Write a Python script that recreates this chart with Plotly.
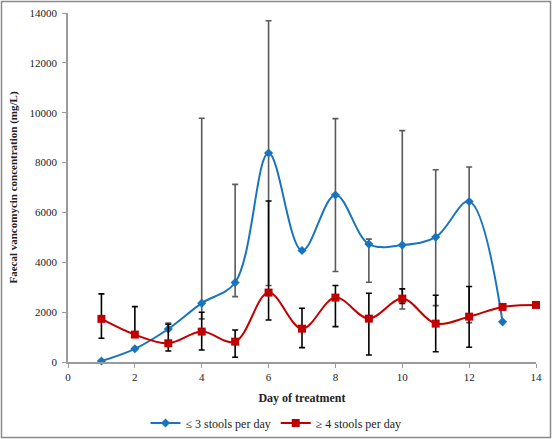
import plotly.graph_objects as go

# ---- data ----
days_low = [1, 2, 3, 4, 5, 6, 7, 8, 9, 10, 11, 12, 13]
conc_low = [40, 530, 1325, 2360, 3190, 8385, 4470, 6700, 4730, 4690, 5010, 6440, 1610]
low_upper = [40, 530, 1567, 9775, 7124, 13688, 4470, 9763, 4930, 9281, 7714, 7822, 1610]
low_lower = [40, 530, 1325, 1728, 2624, 3066, 4470, 3628, 3202, 2129, 2262, 1580, 1610]

days_high = [1, 2, 3, 4, 5, 6, 7, 8, 9, 10, 11, 12, 13, 14]
conc_high = [1730, 1100, 750, 1220, 816, 2784, 1338, 2583, 1740, 2543, 1539, 1820, 2210, 2290]
high_upper = [2732, 2222, 1514, 1997, 1286, 6456, 2157, 3066, 2760, 2933, 2680, 3026, 2210, 2290]
high_lower = [952, 1097, 442, 482, 189, 1687, 575, 1420, 281, 2350, 414, 590, 2210, 2290]

name_low = "≤ 3 stools per day"
name_high = "≥ 4 stools per day"
x_title = "Day of treatment"
y_title = "Faecal vancomycin concentration (mg/L)"
x_ticks = [0, 2, 4, 6, 8, 10, 12, 14]
y_ticks = [0, 2000, 4000, 6000, 8000, 10000, 12000, 14000]
y_tick_labels = ["0", "2000", "4000", "6000", "8000", "10000", "12000", "14000"]

BLUE = "#1A74BD"
RED = "#C00000"
FONT = "Liberation Serif"

fig = go.Figure()
fig.add_trace(go.Scatter(
    x=days_low, y=conc_low, name=name_low, mode="lines+markers",
    line=dict(color=BLUE, width=2, shape="spline", smoothing=1.0),
    marker=dict(symbol="diamond", size=7, color=BLUE),
    error_y=dict(type="data", symmetric=False,
                 array=[u - v for u, v in zip(low_upper, conc_low)],
                 arrayminus=[v - l for v, l in zip(conc_low, low_lower)],
                 color="#5a5a5a", thickness=1.6, width=3),
    cliponaxis=False,
))
fig.add_trace(go.Scatter(
    x=days_high, y=conc_high, name=name_high, mode="lines+markers",
    line=dict(color=RED, width=2, shape="spline", smoothing=1.0),
    marker=dict(symbol="square", size=8, color=RED),
    error_y=dict(type="data", symmetric=False,
                 array=[u - v for u, v in zip(high_upper, conc_high)],
                 arrayminus=[v - l for v, l in zip(conc_high, high_lower)],
                 color="#000000", thickness=1.6, width=3),
    cliponaxis=False,
))

W, H = 552, 439
ml, mr, mt, mb = 68, 16, 13, 77
pw, ph = W - ml - mr, H - mt - mb

def px_x(p):
    return (p - ml) / pw

def px_y(p):
    return (H - mb - p) / ph

fig.update_layout(
    width=W, height=H,
    margin=dict(l=ml, r=mr, t=mt, b=mb, autoexpand=False),
    paper_bgcolor="white", plot_bgcolor="white",
    font=dict(family=FONT, size=11, color="#222222"),
    showlegend=True,
    legend=dict(orientation="h", x=px_x(276), y=px_y(423), xanchor="center", yanchor="middle",
                font=dict(family=FONT, size=12, color="#222222"), itemwidth=30,
                bgcolor="rgba(0,0,0,0)"),
    xaxis=dict(range=[0, 14], tickvals=x_ticks, showgrid=False, zeroline=False,
               showline=True, linecolor="#9a9a9a", linewidth=1.5, automargin=False,
               ticks="outside", ticklen=4, tickcolor="#9a9a9a",
               tickfont=dict(family=FONT, size=11),
               title=dict(text="<b>" + x_title + "</b>", font=dict(family=FONT, size=12), standoff=12)),
    yaxis=dict(range=[0, 14000], tickvals=y_ticks, ticktext=y_tick_labels,
               showgrid=False, zeroline=False, automargin=False,
               showline=True, linecolor="#9a9a9a", linewidth=1.5,
               ticks="outside", ticklen=4, tickcolor="#9a9a9a",
               tickfont=dict(family=FONT, size=11), ticklabelstandoff=3,
               title=dict(text="<b>" + y_title + "</b>", font=dict(family=FONT, size=11), standoff=10)),
    shapes=[dict(type="rect", xref="paper", yref="paper",
                 x0=px_x(1.5), x1=px_x(550.5), y0=px_y(437.5), y1=px_y(1.5),
                 line=dict(color="#8a8a8a", width=1.5), fillcolor="rgba(0,0,0,0)", layer="below")],
)

fig.write_html("out.html", config={"displayModeBar": False},
               post_script="document.body.style.margin='0';document.body.style.overflow='hidden';")
